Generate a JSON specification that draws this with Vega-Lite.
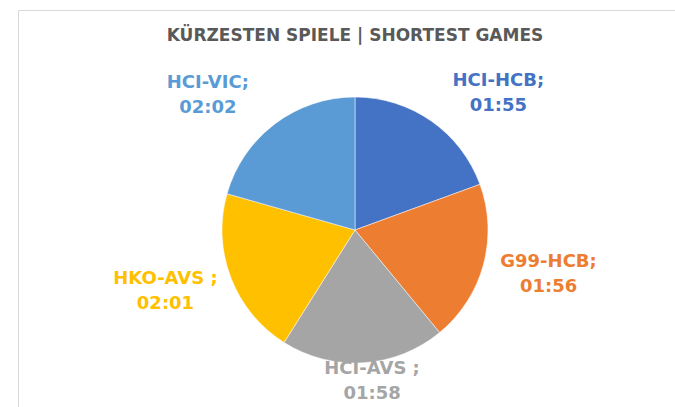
{
  "$schema": "https://vega.github.io/schema/vega-lite/v6.json",
  "width": 674,
  "height": 440,
  "autosize": "none",
  "padding": {"left": 18, "top": 10, "right": 0, "bottom": 0},
  "background": "white",
  "view": {"stroke": "#d9d9d9", "strokeWidth": 1},
  "title": {
    "text": "KÜRZESTEN SPIELE | SHORTEST GAMES",
    "font": "DejaVu Sans",
    "fontSize": 17,
    "fontWeight": "bold",
    "color": "#595959",
    "anchor": "middle",
    "offset": -35
  },
  "data": {
    "values": [
      {"game": "HCI-HCB", "time": "01:55", "minutes": 115, "o": 1, "label": "HCI-HCB;\n01:55"},
      {"game": "G99-HCB", "time": "01:56", "minutes": 116, "o": 2, "label": "G99-HCB;\n01:56"},
      {"game": "HCI-AVS", "time": "01:58", "minutes": 118, "o": 3, "label": "HCI-AVS ;\n01:58"},
      {"game": "HKO-AVS", "time": "02:01", "minutes": 121, "o": 4, "label": "HKO-AVS ;\n02:01"},
      {"game": "HCI-VIC", "time": "02:02", "minutes": 122, "o": 5, "label": "HCI-VIC;\n02:02"}
    ]
  },
  "encoding": {
    "theta": {"field": "minutes", "type": "quantitative", "stack": true},
    "order": {"field": "o", "type": "quantitative"},
    "color": {
      "field": "game",
      "type": "nominal",
      "sort": null,
      "scale": {
        "domain": ["HCI-HCB", "G99-HCB", "HCI-AVS", "HKO-AVS", "HCI-VIC"],
        "range": ["#4472C4", "#ED7D31", "#A5A5A5", "#FFC000", "#5B9BD5"]
      },
      "legend": null
    }
  },
  "layer": [
    {
      "mark": {"type": "arc", "outerRadius": 133, "stroke": "white", "strokeWidth": 0.5}
    },
    {
      "mark": {
        "type": "text",
        "radius": 128,
        "dx": {"expr": "70*clamp(2*sin(scale('theta', 0.5*datum.minutes_start + 0.5*datum.minutes_end)), -1, 1)"},
        "dy": {"expr": "-28*clamp(2*cos(scale('theta', 0.5*datum.minutes_start + 0.5*datum.minutes_end)), -1, 1) - 16.5"},
        "font": "DejaVu Sans",
        "fontSize": 18,
        "fontWeight": "bold",
        "lineBreak": "\n",
        "lineHeight": 25,
        "align": "center",
        "baseline": "middle"
      },
      "encoding": {
        "text": {"field": "label"}
      }
    }
  ]
}
